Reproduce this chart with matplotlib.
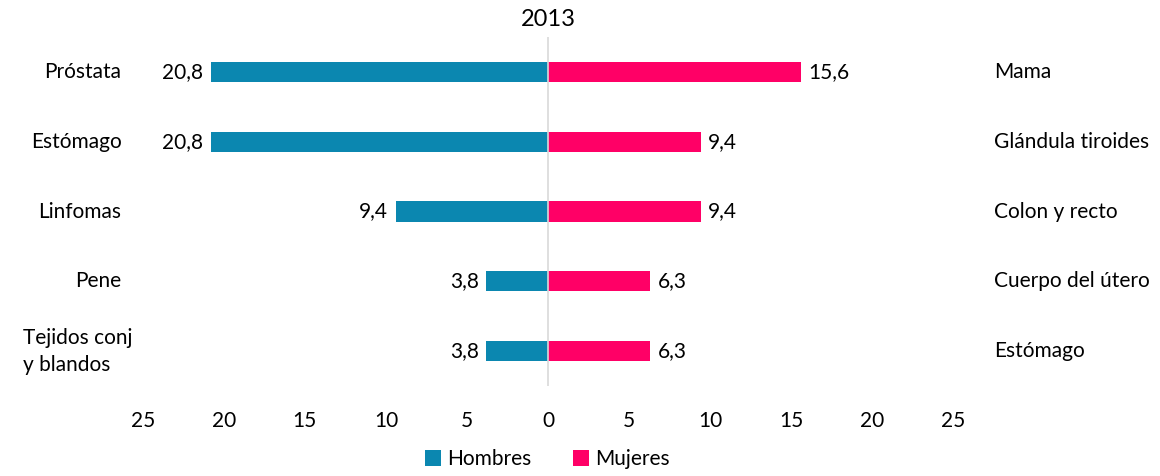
import matplotlib.pyplot as plt
import numpy as np

plt.rcParams['font.family'] = ['Lato', 'DejaVu Sans']

# data
hombres_sitios = ['Próstata', 'Estómago', 'Linfomas', 'Pene', 'Tejidos conj\ny blandos']
hombres_vals = [20.8, 20.8, 9.4, 3.8, 3.8]
mujeres_sitios = ['Mama', 'Glándula tiroides', 'Colon y recto', 'Cuerpo del útero', 'Estómago']
mujeres_vals = [15.6, 9.4, 9.4, 6.3, 6.3]
ticks = [-25, -20, -15, -10, -5, 0, 5, 10, 15, 20, 25]

azul = '#0B87B0'
rosa = '#FF0066'
fs = 15

fig = plt.figure(figsize=(11.6, 4.76), dpi=100)
ax = fig.add_axes([0.123, 0.189, 0.699, 0.733])

y = np.arange(len(hombres_vals))
h = 0.29
ax.barh(y, [-v for v in hombres_vals], height=h, color=azul, label='Hombres', zorder=2)
ax.barh(y, mujeres_vals, height=h, color=rosa, label='Mujeres', zorder=2)
ax.axvline(0, color='#D9D9D9', lw=1.2, zorder=3)

for i in range(len(y)):
    ax.text(-hombres_vals[i] - 0.45, y[i], ('%.1f' % hombres_vals[i]).replace('.', ','),
            ha='right', va='center', fontsize=fs)
    ax.text(mujeres_vals[i] + 0.45, y[i], ('%.1f' % mujeres_vals[i]).replace('.', ','),
            ha='left', va='center', fontsize=fs)
    lab = hombres_sitios[i]
    xl = -26.3 if '\n' not in lab else -25.6  # wrapped label sits a bit further right
    ax.text(xl, y[i], lab, ha='right', va='center', fontsize=fs,
            multialignment='left', linespacing=1.45)
    ax.text(27.5, y[i], mujeres_sitios[i], ha='left', va='center', fontsize=fs)

ax.set_xlim(-25, 25)
ax.set_ylim(len(y) - 0.5, -0.5)
ax.set_xticks(ticks)
ax.set_xticklabels([str(abs(t)) for t in ticks], fontsize=fs)
ax.tick_params(axis='x', length=0, pad=18)
ax.set_yticks([])
for s in ax.spines.values():
    s.set_visible(False)

ax.set_title('2013', fontsize=fs + 2, pad=8)
fig.legend(loc='lower center', bbox_to_anchor=(0.472, -0.025), ncol=2, frameon=False,
           fontsize=fs, handlelength=0.75, handleheight=0.75, handletextpad=0.3, columnspacing=2)

fig.savefig('out.png', dpi=100)
